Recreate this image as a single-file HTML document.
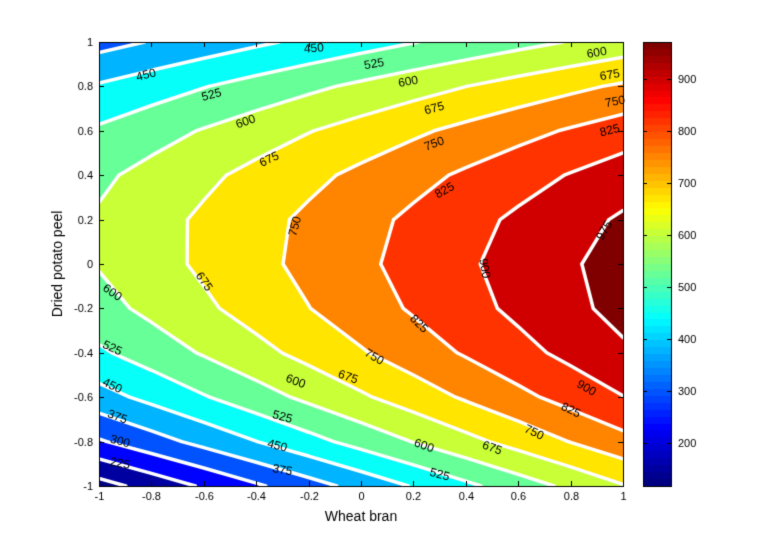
<!DOCTYPE html>
<html><head><meta charset="utf-8"><style>
body{margin:0;background:#fff;width:765px;height:546px;overflow:hidden;font-family:"Liberation Sans",Arial,sans-serif}
#wrap{position:relative;width:765px;height:546px}
canvas{position:absolute;left:0;top:0}
</style></head><body>
<div id="wrap">
<canvas id="c" width="765" height="546"></canvas>
</div>
<script>
// response surface coefficients
const levels = [150,225,300,375,450,525,600,675,750,825,900,975];
const coefA = [810,200,-5];    // A(x)=a0+a1 x+a2 x^2
const coefC = [26,-60];        // linear-in-y term C(x)=c0+c1 x
const coefK = [340];           // -K y^2
const coefE = [28,30];         // P y^3 - Q y^4, weighted by (0.75-0.25x)
const cbTicks = [200,300,400,500,600,700,800,900];
const axisTicks = [-1,-0.8,-0.6,-0.4,-0.2,0,0.2,0.4,0.6,0.8,1];
const cRange = [117,972];
const labelX = [-0.18,0.05,0.9,-0.82,0.18,0.95,-0.57,0.28,0.97,-0.44,0.28,0.95,-0.35,0.32,0.93,-0.25,0.47,-0.6,-0.95,0.22,-0.95,0.05,-0.95,-0.25,-0.05,0.86,-0.93,-0.3,0.8,-0.92,-0.32,0.66,0.24,0.5,-0.92,-0.3,0.3];
const labelY = [0.97,0.9,0.95,0.85,0.82,0.85,0.76,0.70,0.73,0.64,0.54,0.6,0.47,0.33,0.15,0.17,-0.02,-0.08,-0.13,-0.27,-0.38,-0.42,-0.55,-0.53,-0.51,-0.56,-0.69,-0.69,-0.66,-0.8,-0.82,-0.76,-0.82,-0.83,-0.9,-0.93,-0.95];
const labelV = [450,525,600,450,600,675,525,675,750,600,750,825,675,825,975,750,900,675,600,825,525,750,450,600,675,900,375,525,825,300,450,750,600,675,225,375,525];
const labelR = [-5,-10,-10,-15,-10,-10,-15,-15,-10,-20,-20,-15,-25,-30,-60,-75,80,55,35,45,25,30,25,20,20,30,20,15,25,15,15,25,20,20,10,10,15];

const L=99,R=623,T=42,B=486;
const sx=x=>L+(x+1)/2*(R-L), sy=y=>B-(y+1)/2*(B-T);
function f(x,y){const A=coefA[0]+coefA[1]*x+coefA[2]*x*x;const C=coefC[0]+coefC[1]*x;
 const E=(coefE[0]*y*y*y-coefE[1]*y*y*y*y)*(0.75-0.25*x);return A+C*y-coefK[0]*y*y+E;}
function jet(t){t=Math.max(0,Math.min(1,t));t=Math.floor(t*63.999)/63;const c=v=>Math.round(255*Math.max(0,Math.min(1,v)));
return [c(1.5-4*Math.abs(t-0.75)),c(1.5-4*Math.abs(t-0.5)),c(1.5-4*Math.abs(t-0.25))];}
const N=10,g=[];for(let j=0;j<=N;j++){g[j]=[];for(let i=0;i<=N;i++)g[j][i]=f(-1+2*i/N,-1+2*j/N);}
function fi(x,y){const u=(x+1)/2*N,v=(y+1)/2*N;const i=Math.min(N-1,Math.floor(u)),j=Math.min(N-1,Math.floor(v));const a=u-i,b=v-j;
 return g[j][i]*(1-a)*(1-b)+g[j][i+1]*a*(1-b)+g[j+1][i]*(1-a)*b+g[j+1][i+1]*a*b;}
const cv=document.getElementById('c'),ctx=cv.getContext('2d');
ctx.fillStyle='#fff';ctx.fillRect(0,0,765,546);
const W=R-L,H=B-T,img=ctx.createImageData(W,H);
for(let j=0;j<H;j++)for(let i=0;i<W;i++){
 const x=-1+2*(i+0.5)/W,y=1-2*(j+0.5)/H,v=fi(x,y);
 let lv=cRange[0];for(const l of levels)if(v>=l)lv=l;
 const col=jet((lv-cRange[0])/(cRange[1]-cRange[0]));const k=4*(j*W+i);
 img.data[k]=col[0];img.data[k+1]=col[1];img.data[k+2]=col[2];img.data[k+3]=255;}
ctx.putImageData(img,L,T);
ctx.save();ctx.beginPath();ctx.rect(L,T,W,H);ctx.clip();
ctx.strokeStyle='#fff';ctx.lineWidth=3.5;ctx.lineCap='round';ctx.lineJoin='round';
for(const lv of levels){ctx.beginPath();
 for(let j=0;j<N;j++)for(let i=0;i<N;i++){
  const p=[[i,j],[i+1,j],[i+1,j+1],[i,j+1]],pts=[];
  for(let e=0;e<4;e++){const a=p[e],b=p[(e+1)%4],va=g[a[1]][a[0]],vb=g[b[1]][b[0]];
   if((va<lv)!==(vb<lv)){const t=(lv-va)/(vb-va);pts.push([a[0]+t*(b[0]-a[0]),a[1]+t*(b[1]-a[1])]);}}
  for(let q=0;q+1<pts.length;q+=2){ctx.moveTo(sx(-1+2*pts[q][0]/N),sy(-1+2*pts[q][1]/N));ctx.lineTo(sx(-1+2*pts[q+1][0]/N),sy(-1+2*pts[q+1][1]/N));}}
 ctx.stroke();}
ctx.restore();
ctx.fillStyle='#000';ctx.font='12px "Liberation Sans",Arial,sans-serif';ctx.textAlign='center';ctx.textBaseline='middle';
for(let k=0;k<labelV.length;k++){ctx.save();ctx.translate(sx(labelX[k]),sy(labelY[k]));ctx.rotate(labelR[k]*Math.PI/180);ctx.fillText(String(labelV[k]),0,0);ctx.restore();}
ctx.strokeStyle='#000';ctx.lineWidth=1;ctx.strokeRect(L+0.5,T+0.5,W,H);
ctx.font='11px "Liberation Sans",Arial,sans-serif';
for(const t of axisTicks){const x=Math.round(sx(t))+0.5,y=Math.round(sy(t))+0.5;
 ctx.beginPath();ctx.moveTo(x,B);ctx.lineTo(x,B-5);ctx.moveTo(x,T);ctx.lineTo(x,T+5);
 ctx.moveTo(L,y);ctx.lineTo(L+5,y);ctx.moveTo(R,y);ctx.lineTo(R-5,y);ctx.stroke();
 const s=String(t);ctx.textAlign='center';ctx.textBaseline='top';ctx.fillText(s,x,B+5);
 ctx.textAlign='right';ctx.textBaseline='middle';ctx.fillText(s,L-6,y);}
const CL=643,CR=671;
for(let j=T;j<B;j++){const v=cRange[1]-(j-T+0.5)/(B-T)*(cRange[1]-cRange[0]);const c=jet((v-cRange[0])/(cRange[1]-cRange[0]));ctx.fillStyle=`rgb(${c})`;ctx.fillRect(CL,j,CR-CL,1);}
ctx.strokeRect(CL+0.5,T+0.5,CR-CL,H);ctx.fillStyle='#000';
for(const t of cbTicks){const y=Math.round(B-(t-cRange[0])/(cRange[1]-cRange[0])*H)+0.5;
 ctx.beginPath();ctx.moveTo(CL,y);ctx.lineTo(CL+4,y);ctx.moveTo(CR,y);ctx.lineTo(CR-4,y);ctx.stroke();
 ctx.textAlign='left';ctx.textBaseline='middle';ctx.fillText(String(t),CR+7,y);}
ctx.font='14px "Liberation Sans",Arial,sans-serif';ctx.textAlign='center';ctx.textBaseline='middle';
ctx.fillText('Wheat bran',361,517);
ctx.save();ctx.translate(58,264);ctx.rotate(-Math.PI/2);ctx.fillText('Dried potato peel',0,0);ctx.restore();
</script>
</body></html>
